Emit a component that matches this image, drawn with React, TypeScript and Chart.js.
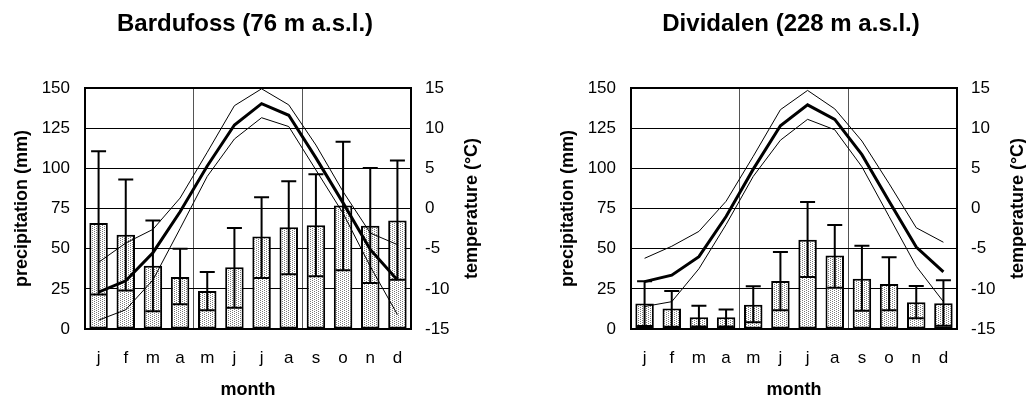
import React, { useEffect, useRef } from 'react';
import { Chart, registerables } from 'chart.js';

Chart.register(...registerables);

// ---- data ----
const months = ['j', 'f', 'm', 'a', 'm', 'j', 'j', 'a', 's', 'o', 'n', 'd'];

const bardufossTitle = 'Bardufoss (76 m a.s.l.)';
const bardufossPrecip = [66, 58.7, 39.4, 32.4, 23.7, 38.4, 57.5, 63.3, 64.5, 76.8, 64.3, 67.6];
const bardufossPrecipHigh = [110.6, 93, 67.6, 50, 35.5, 62.9, 82, 92, 96.3, 116.6, 100.2, 104.8];
const bardufossPrecipLow = [21.4, 24, 11, 15.4, 11.6, 13.3, 31.7, 34, 32.8, 36.5, 28.6, 30.7];
const bardufossTempMean = [-10.4, -9.0, -5.5, -0.4, 5.3, 10.4, 13.05, 11.6, 6.3, 0.7, -5.1, -8.9];
const bardufossTempMax = [-6.7, -4.3, -2.6, 1.3, 7.0, 12.8, 14.9, 12.9, 7.9, 2.1, -3.05, -4.5];
const bardufossTempMin = [-13.9, -12.6, -8.9, -2.5, 4.0, 8.65, 11.3, 10.2, 4.8, -0.6, -7.2, -13.2];

const dividalenTitle = 'Dividalen (228 m a.s.l.)';
const dividalenPrecip = [15.8, 12.7, 7.3, 7.3, 15.1, 29.9, 55.6, 45.7, 31.2, 28, 16.7, 16];
const dividalenPrecipHigh = [29.7, 23.6, 14.5, 12.2, 26.6, 47.9, 79, 64.7, 51.8, 44.6, 26.7, 30.3];
const dividalenPrecipLow = [1.8, 1.4, 1.5, 1.6, 4.2, 11.6, 32.4, 25.7, 11.3, 11.6, 6.7, 2];
const dividalenTempMean = [-9.1, -8.3, -6.0, -1.0, 4.9, 10.3, 12.9, 11.1, 6.7, 0.9, -4.8, -7.9];
const dividalenTempMax = [-6.2, -4.7, -2.85, 0.9, 6.5, 12.3, 14.7, 12.4, 8.4, 3.1, -2.4, -4.2];
const dividalenTempMin = [-12.2, -11.6, -7.5, -2.0, 4.0, 8.5, 11.1, 9.8, 5.2, -1.0, -7.2, -11.6];

const precipMin = 0;
const precipMax = 150;
const precipStep = 25;
const tempMin = -15;
const tempMax = 15;
const tempStep = 5;

const xTitle = 'month';
const yTitle = 'precipitation (mm)';
const y1Title = 'temperature (°C)';

const FONT = '"Liberation Sans", Arial, Helvetica, sans-serif';
const CANVAS_W = 490;
const CANVAS_H = 404;

function makeStipple(ctx: CanvasRenderingContext2D) {
  const c = document.createElement('canvas');
  c.width = 4;
  c.height = 2;
  const g = c.getContext('2d')!;
  g.fillStyle = '#ffffff';
  g.fillRect(0, 0, 4, 2);
  g.fillStyle = '#7a7a7a';
  g.fillRect(0, 0, 1, 1);
  g.fillRect(2, 1, 1, 1);
  return ctx.createPattern(c, 'repeat');
}

type Props = {
  title: string;
  precip: number[];
  high: number[];
  low: number[];
  tMean: number[];
  tMax: number[];
  tMin: number[];
  left: number;
};

function ClimateChart({ title, precip, high, low, tMean, tMax, tMin, left }: Props) {
  const ref = useRef<HTMLCanvasElement | null>(null);

  useEffect(() => {
    const canvas = ref.current!;
    const ctx2d = canvas.getContext('2d')!;
    const pattern = makeStipple(ctx2d);

    const errorBars = {
      id: 'errorBars',
      afterDatasetDraw(chart: any, args: any) {
        if (args.index !== 0) return;
        const meta = chart.getDatasetMeta(0);
        const ys = chart.scales.y;
        const ctx = chart.ctx;
        ctx.save();
        ctx.strokeStyle = '#000';
        ctx.lineWidth = 2;
        meta.data.forEach((el: any, i: number) => {
          const x = el.x;
          const yh = ys.getPixelForValue(high[i]);
          const yl = ys.getPixelForValue(low[i]);
          ctx.beginPath();
          ctx.moveTo(x, yh);
          ctx.lineTo(x, yl);
          ctx.moveTo(x - 7.5, yh);
          ctx.lineTo(x + 7.5, yh);
          ctx.moveTo(x - 7.5, yl);
          ctx.lineTo(x + 7.5, yl);
          ctx.stroke();
        });
        ctx.restore();
      },
    };

    const frame = {
      id: 'frame',
      afterDraw(chart: any) {
        const { ctx, chartArea } = chart;
        ctx.save();
        ctx.strokeStyle = '#000';
        ctx.lineWidth = 2;
        ctx.strokeRect(chartArea.left, chartArea.top, chartArea.right - chartArea.left, chartArea.bottom - chartArea.top);
        ctx.font = `bold 18px ${FONT}`;
        ctx.fillStyle = '#000';
        ctx.translate(chartArea.right + 61, (chartArea.top + chartArea.bottom) / 2);
        ctx.rotate(-Math.PI / 2);
        ctx.textAlign = 'center';
        ctx.textBaseline = 'middle';
        ctx.fillText(y1Title, 0, 0);
        ctx.restore();
      },
    };

    const chart = new Chart(canvas, {
      type: 'bar',
      data: {
        labels: months,
        datasets: [
          {
            type: 'bar',
            data: precip,
            backgroundColor: pattern as any,
            borderColor: '#000',
            borderWidth: 2,
            borderSkipped: false,
            barPercentage: 0.68,
            categoryPercentage: 1,
            yAxisID: 'y',
            order: 1,
          },
          {
            type: 'line',
            data: tMax,
            borderColor: '#000',
            borderWidth: 1,
            pointRadius: 0,
            tension: 0,
            yAxisID: 'y1',
            order: 0,
          },
          {
            type: 'line',
            data: tMin,
            borderColor: '#000',
            borderWidth: 1,
            pointRadius: 0,
            tension: 0,
            yAxisID: 'y1',
            order: 0,
          },
          {
            type: 'line',
            data: tMean,
            borderColor: '#000',
            borderWidth: 3,
            pointRadius: 0,
            tension: 0,
            yAxisID: 'y1',
            order: 0,
          },
        ] as any,
      },
      options: {
        responsive: false,
        animation: false,
        layout: { padding: 0 },
        plugins: {
          legend: { display: false },
          tooltip: { enabled: false },
          title: {
            display: true,
            text: title,
            color: '#000',
            font: { family: FONT, size: 24, weight: 'bold' },
            padding: { top: 9.8, bottom: 49.4 },
          },
        },
        scales: {
          x: {
            grid: {
              drawTicks: false,
              lineWidth: 1,
              color: (c: any) => (c.index === 4 || c.index === 8 ? '#555' : 'rgba(0,0,0,0)'),
            },
            border: { display: false },
            ticks: { padding: 19, color: '#000', font: { family: FONT, size: 17 }, maxRotation: 0, autoSkip: false },
            title: {
              display: true,
              text: xTitle,
              color: '#000',
              font: { family: FONT, size: 18, weight: 'bold' },
              padding: { top: 0, bottom: 2.7 },
            },
            afterFit: (s: any) => {
              s.height = CANVAS_H - 329;
            },
          },
          y: {
            position: 'left',
            min: precipMin,
            max: precipMax,
            ticks: { stepSize: precipStep, padding: 15, color: '#000', font: { family: FONT, size: 17 } },
            grid: { drawTicks: false, color: '#000', lineWidth: 1 },
            border: { display: false },
            title: {
              display: true,
              text: yTitle,
              color: '#000',
              font: { family: FONT, size: 18, weight: 'bold' },
              padding: { top: 11, bottom: 0 },
            },
            afterFit: (s: any) => {
              s.width = 85;
            },
          },
          y1: {
            position: 'right',
            min: tempMin,
            max: tempMax,
            ticks: { stepSize: tempStep, padding: 14, color: '#000', font: { family: FONT, size: 17 } },
            grid: { display: false, drawTicks: false },
            border: { display: false },
            afterFit: (s: any) => {
              s.width = CANVAS_W - 411;
            },
          },
        },
      } as any,
      plugins: [errorBars, frame],
    });
    return () => chart.destroy();
  }, []);

  return (
    <canvas
      ref={ref}
      width={CANVAS_W}
      height={CANVAS_H}
      style={{ position: 'absolute', left, top: 0, width: CANVAS_W, height: CANVAS_H }}
    />
  );
}

export default function App() {
  return (
    <div
      style={{
        position: 'fixed',
        left: 0,
        top: 0,
        width: 1026,
        height: 396,
        overflow: 'hidden',
        background: '#fff',
      }}
    >
      <ClimateChart
        title={bardufossTitle}
        precip={bardufossPrecip}
        high={bardufossPrecipHigh}
        low={bardufossPrecipLow}
        tMean={bardufossTempMean}
        tMax={bardufossTempMax}
        tMin={bardufossTempMin}
        left={0}
      />
      <ClimateChart
        title={dividalenTitle}
        precip={dividalenPrecip}
        high={dividalenPrecipHigh}
        low={dividalenPrecipLow}
        tMean={dividalenTempMean}
        tMax={dividalenTempMax}
        tMin={dividalenTempMin}
        left={546}
      />
    </div>
  );
}
